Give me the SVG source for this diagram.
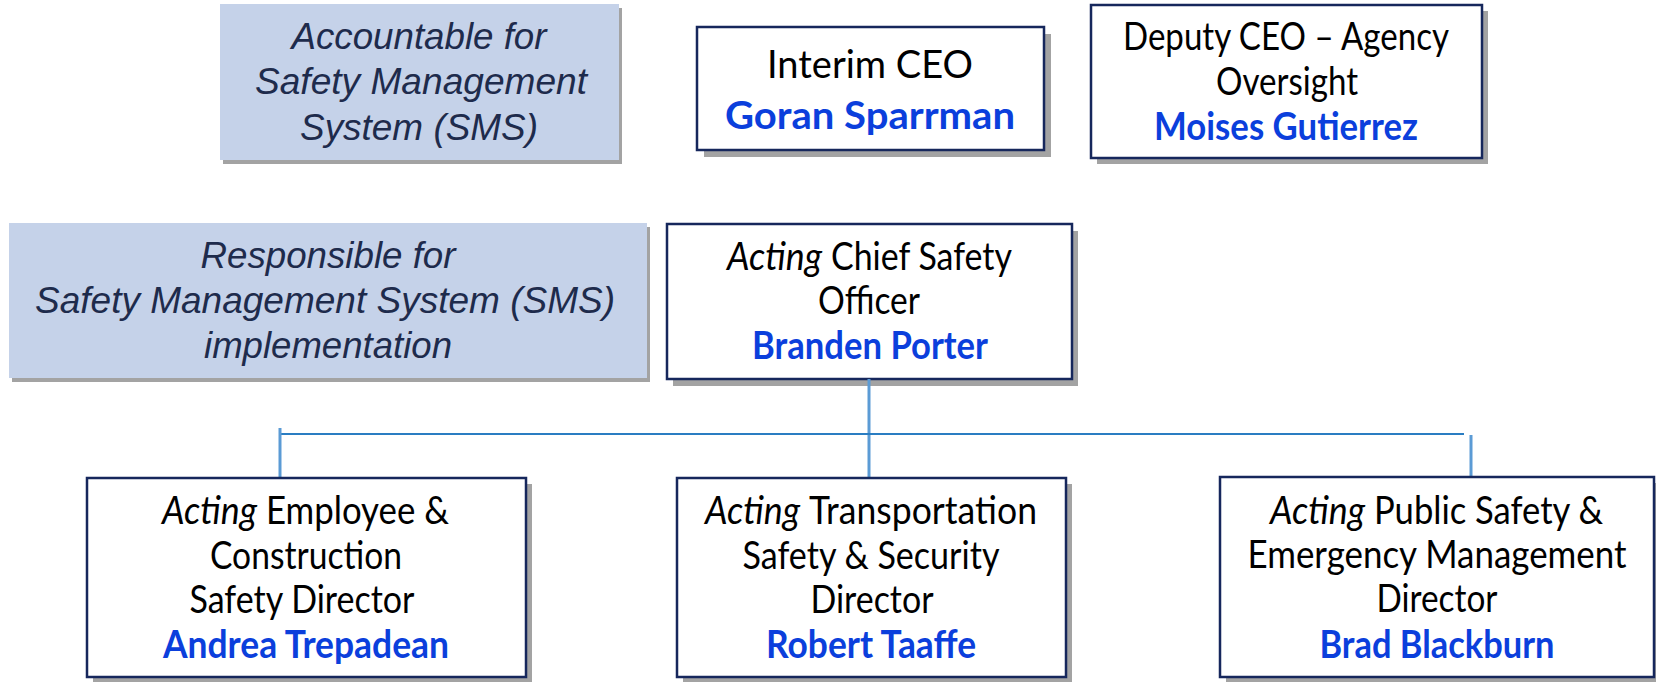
<svg xmlns="http://www.w3.org/2000/svg" width="1656" height="682" viewBox="0 0 1656 682">
<style>
.bg{fill:#ffffff}
.sh{fill:#a3a3a3}
.blue{fill:#c5d2e9}
.box{fill:#ffffff;stroke:#16275c;stroke-width:2.5}
.lbl{font-family:"Liberation Sans",Arial,sans-serif;font-style:italic;fill:#1e2b4c;text-anchor:middle}
.t{font-family:Lato,"Open Sans",sans-serif;font-size:39px;fill:#000000;text-anchor:middle}
.s{font-family:Lato,"Open Sans",sans-serif;font-size:39px;fill:#000000;text-anchor:start}
.it{font-style:italic}
.n{font-family:Lato,"Open Sans",sans-serif;font-size:39px;font-weight:bold;fill:#0b3fdc;text-anchor:middle}
.v{stroke:#5b9bd5;stroke-width:3;fill:none}
.h{stroke:#2a7dc2;stroke-width:2;fill:none}
</style>
<rect class="bg" x="0" y="0" width="1656" height="682"/>

<g id="accountable">
<rect class="sh" x="223" y="8" width="399" height="156"/>
<rect class="blue" x="220" y="4" width="399" height="156"/>
<text class="lbl" font-size="36" x="419" y="49" textLength="255" lengthAdjust="spacingAndGlyphs">Accountable for</text>
<text class="lbl" font-size="36" x="421" y="94" textLength="332" lengthAdjust="spacingAndGlyphs">Safety Management</text>
<text class="lbl" font-size="36" x="419" y="140" textLength="238" lengthAdjust="spacingAndGlyphs">System (SMS)</text>
</g>

<g id="interim-ceo">
<rect class="sh" x="704" y="34" width="347" height="123"/>
<rect class="box" x="697" y="27" width="347" height="123"/>
<text class="t" x="870" y="78" textLength="206" lengthAdjust="spacingAndGlyphs">Interim CEO</text>
<text class="n" x="870" y="129" textLength="290" lengthAdjust="spacingAndGlyphs">Goran Sparrman</text>
</g>

<g id="deputy-ceo">
<rect class="sh" x="1097" y="11" width="391" height="153"/>
<rect class="box" x="1091" y="5" width="391" height="153"/>
<text class="t" x="1286" y="50" textLength="326" lengthAdjust="spacingAndGlyphs">Deputy CEO – Agency</text>
<text class="t" x="1287" y="95" textLength="142" lengthAdjust="spacingAndGlyphs">Oversight</text>
<text class="n" x="1286" y="140" textLength="264" lengthAdjust="spacingAndGlyphs">Moises Gutierrez</text>
</g>

<g id="responsible">
<rect class="sh" x="12" y="227" width="638" height="155"/>
<rect class="blue" x="9" y="223" width="638" height="155"/>
<text class="lbl" font-size="36" x="328" y="268" textLength="255" lengthAdjust="spacingAndGlyphs">Responsible for</text>
<text class="lbl" font-size="36" x="325" y="313" textLength="580" lengthAdjust="spacingAndGlyphs">Safety Management System (SMS)</text>
<text class="lbl" font-size="36" x="328" y="358" textLength="248" lengthAdjust="spacingAndGlyphs">implementation</text>
</g>

<g id="chief-safety-officer">
<rect class="sh" x="673" y="231" width="405" height="155"/>
<rect class="box" x="667" y="224" width="405" height="155"/>
<text class="s it" x="727" y="270" textLength="95" lengthAdjust="spacingAndGlyphs">Acting</text>
<text class="s" x="831" y="270" textLength="181" lengthAdjust="spacingAndGlyphs">Chief Safety</text>
<text class="t" x="869" y="314" textLength="102" lengthAdjust="spacingAndGlyphs">Officer</text>
<text class="n" x="870" y="359" textLength="236" lengthAdjust="spacingAndGlyphs">Branden Porter</text>
</g>

<g id="connectors">
<line class="v" x1="869" y1="379" x2="869" y2="478"/>
<line class="h" x1="280" y1="434" x2="1464" y2="434"/>
<line class="v" x1="280" y1="428" x2="280" y2="478"/>
<line class="v" x1="1471" y1="435" x2="1471" y2="477"/>
</g>

<g id="employee-construction">
<rect class="sh" x="93" y="484" width="439" height="199"/>
<rect class="box" x="87" y="478" width="439" height="199"/>
<text class="s it" x="162" y="524" textLength="95" lengthAdjust="spacingAndGlyphs">Acting</text>
<text class="s" x="266" y="524" textLength="183" lengthAdjust="spacingAndGlyphs">Employee &amp;</text>
<text class="t" x="306" y="569" textLength="192" lengthAdjust="spacingAndGlyphs">Construction</text>
<text class="t" x="302" y="613" textLength="225" lengthAdjust="spacingAndGlyphs">Safety Director</text>
<text class="n" x="306" y="658" textLength="286" lengthAdjust="spacingAndGlyphs">Andrea Trepadean</text>
</g>

<g id="transportation-safety">
<rect class="sh" x="683" y="484" width="389" height="199"/>
<rect class="box" x="677" y="478" width="389" height="199"/>
<text class="s it" x="705" y="524" textLength="95" lengthAdjust="spacingAndGlyphs">Acting</text>
<text class="s" x="809" y="524" textLength="228" lengthAdjust="spacingAndGlyphs">Transportation</text>
<text class="t" x="871" y="569" textLength="257" lengthAdjust="spacingAndGlyphs">Safety &amp; Security</text>
<text class="t" x="872" y="613" textLength="123" lengthAdjust="spacingAndGlyphs">Director</text>
<text class="n" x="871" y="658" textLength="210" lengthAdjust="spacingAndGlyphs">Robert Taaffe</text>
</g>

<g id="public-safety">
<rect class="sh" x="1226" y="483" width="430" height="200"/>
<rect class="box" x="1220" y="477" width="434" height="200"/>
<text class="s it" x="1270" y="524" textLength="95" lengthAdjust="spacingAndGlyphs">Acting</text>
<text class="s" x="1374" y="524" font-size="37" textLength="229" lengthAdjust="spacingAndGlyphs">Public Safety &amp;</text>
<text class="t" x="1437" y="568" font-size="37" textLength="379" lengthAdjust="spacingAndGlyphs">Emergency Management</text>
<text class="t" x="1437" y="612" textLength="121" lengthAdjust="spacingAndGlyphs">Director</text>
<text class="n" x="1437" y="658" textLength="235" lengthAdjust="spacingAndGlyphs">Brad Blackburn</text>
</g>
</svg>
